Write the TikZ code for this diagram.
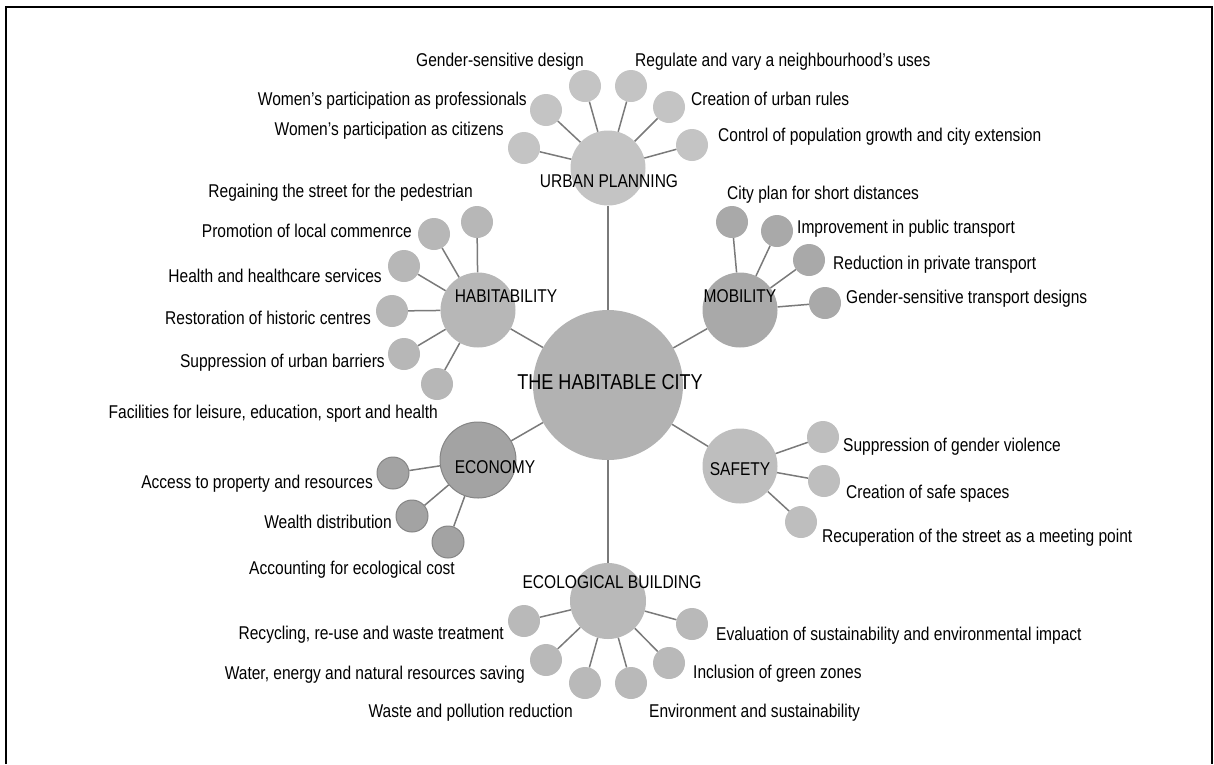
\documentclass[tikz,border=0pt]{standalone}
\usepackage{fontspec}
\setmainfont[FakeStretch=0.84]{Liberation Sans}
\begin{document}
\begin{tikzpicture}[x=1pt,y=-1pt,
  hubtext/.style={font=\fontsize{18.5}{20}\selectfont, inner sep=0pt},
  lbl/.style={font=\fontsize{18.5}{20}\selectfont, inner sep=0pt, yshift=-3.5pt},
  lleft/.style={lbl, anchor=mid east},
  lright/.style={lbl, anchor=mid west},
  bubble/.style={circle, inner sep=0pt, draw=none},
  leaf/.style={bubble, minimum size=32pt},
  hub/.style={bubble, minimum size=75pt},
  link/.style={draw=linkgray, line width=1.5pt},
  cUrban/.style={fill=urbangray},
  cHabit/.style={fill=habitgray},
  cMobil/.style={fill=mobilgray},
  cEcon/.style={fill=econgray, draw=econline, line width=1pt},
  cSafe/.style={fill=safegray},
  cEco/.style={fill=ecogray},
]
\definecolor{linkgray}{HTML}{7A7A7A}
\definecolor{citygray}{HTML}{B2B2B2}
\definecolor{urbangray}{HTML}{C4C4C4}
\definecolor{habitgray}{HTML}{B7B7B7}
\definecolor{mobilgray}{HTML}{A9A9A9}
\definecolor{econgray}{HTML}{A3A3A3}
\definecolor{econline}{HTML}{858585}
\definecolor{safegray}{HTML}{BEBEBE}
\definecolor{ecogray}{HTML}{B9B9B9}

\useasboundingbox (0,0) rectangle (1214,764);
% open frame: left, top and right sides
\draw[line width=2pt] (6.3,764) -- (6.3,7) -- (1212,7) -- (1212,764);

% central circle
\node[bubble, minimum size=150pt, fill=citygray] (city) at (608,385) {};

% hubs
\node[hub, cUrban] (urban) at (608,168) {};
\node[hub, cHabit] (habit) at (478,310) {};
\node[hub, cMobil] (mobil) at (740,310) {};
\node[hub, cEcon, minimum size=76pt] (econ) at (478,460) {};
\node[hub, cSafe] (safe) at (740,466) {};
\node[hub, cEco, minimum size=76pt] (eco) at (608,601) {};

% urban planning leaves
\node[leaf, cUrban] (u1) at (524,148) {};
\node[leaf, cUrban] (u2) at (546,110) {};
\node[leaf, cUrban] (u3) at (585,86) {};
\node[leaf, cUrban] (u4) at (631,86) {};
\node[leaf, cUrban] (u5) at (669,107) {};
\node[leaf, cUrban] (u6) at (692,145) {};

% habitability leaves
\node[leaf, cHabit] (h1) at (477,222) {};
\node[leaf, cHabit] (h2) at (434,234) {};
\node[leaf, cHabit] (h3) at (404,266) {};
\node[leaf, cHabit] (h4) at (392,311) {};
\node[leaf, cHabit] (h5) at (404,354) {};
\node[leaf, cHabit] (h6) at (437,384) {};

% mobility leaves
\node[leaf, cMobil] (m1) at (732,222) {};
\node[leaf, cMobil] (m2) at (777,231) {};
\node[leaf, cMobil] (m3) at (809,260) {};
\node[leaf, cMobil] (m4) at (825,303) {};

% safety leaves
\node[leaf, cSafe] (s1) at (823,437) {};
\node[leaf, cSafe] (s2) at (824,481) {};
\node[leaf, cSafe] (s3) at (801,522) {};

% economy leaves
\node[leaf, cEcon] (e1) at (393,473) {};
\node[leaf, cEcon] (e2) at (412,516) {};
\node[leaf, cEcon] (e3) at (448,542) {};

% ecological building leaves
\node[leaf, cEco] (b1) at (524,621) {};
\node[leaf, cEco] (b2) at (546,660) {};
\node[leaf, cEco] (b3) at (585,683) {};
\node[leaf, cEco] (b4) at (631,683) {};
\node[leaf, cEco] (b5) at (669,663) {};
\node[leaf, cEco] (b6) at (692,624) {};

% connectors
\foreach \h in {urban,habit,mobil,econ,safe,eco} \draw[link] (city) -- (\h);
\foreach \l in {u1,u2,u3,u4,u5,u6} \draw[link] (urban) -- (\l);
\foreach \l in {h1,h2,h3,h4,h5,h6} \draw[link] (habit) -- (\l);
\foreach \l in {m1,m2,m3,m4} \draw[link] (mobil) -- (\l);
\foreach \l in {s1,s2,s3} \draw[link] (safe) -- (\l);
\foreach \l in {e1,e2,e3} \draw[link] (econ) -- (\l);
\foreach \l in {b1,b2,b3,b4,b5,b6} \draw[link] (eco) -- (\l);

% circle titles
\node[inner sep=0pt, font=\fontsize{21.5}{24}\selectfont] (tcity) at (610,382) {THE HABITABLE CITY};
\node[hubtext] (turban) at (609,181) {URBAN PLANNING};
\node[hubtext] (thabit) at (506,296) {HABITABILITY};
\node[hubtext] (tmobil) at (740,296) {MOBILITY};
\node[hubtext] (tecon) at (495,467) {ECONOMY};
\node[hubtext] (tsafe) at (740,469) {SAFETY};
\node[hubtext] (teco) at (612,582) {ECOLOGICAL BUILDING};

% urban planning labels
\node[lleft] (lu3) at (584,60) {Gender-sensitive design};
\node[lright] (lu4) at (635,60) {Regulate and vary a neighbourhood’s uses};
\node[lleft] (lu2) at (527,99) {Women’s participation as professionals};
\node[lright] (lu5) at (691,99) {Creation of urban rules};
\node[lleft] (lu1) at (504,129) {Women’s participation as citizens};
\node[lright] (lu6) at (718,135) {Control of population growth and city extension};

% habitability labels
\node[lleft] (lh1) at (473,191) {Regaining the street for the pedestrian};
\node[lleft] (lh2) at (412,231) {Promotion of local commenrce};
\node[lleft] (lh3) at (382,276) {Health and healthcare services};
\node[lleft] (lh4) at (371,318) {Restoration of historic centres};
\node[lleft] (lh5) at (385,361) {Suppression of urban barriers};
\node[lleft] (lh6) at (438,412) {Facilities for leisure, education, sport and health};

% mobility labels
\node[lright] (lm1) at (727,193) {City plan for short distances};
\node[lright] (lm2) at (797,227) {Improvement in public transport};
\node[lright] (lm3) at (833,263) {Reduction in private transport};
\node[lright] (lm4) at (846,297) {Gender-sensitive transport designs};

% safety labels
\node[lright] (ls1) at (843,445) {Suppression of gender violence};
\node[lright] (ls2) at (846,492) {Creation of safe spaces};
\node[lright] (ls3) at (822,536) {Recuperation of the street as a meeting point};

% economy labels
\node[lleft] (le1) at (373,482) {Access to property and resources};
\node[lleft] (le2) at (392,522) {Wealth distribution};
\node[lleft] (le3) at (455,568) {Accounting for ecological cost};

% ecological building labels
\node[lleft] (lb1) at (504,633) {Recycling, re-use and waste treatment};
\node[lleft] (lb2) at (525,673) {Water, energy and natural resources saving};
\node[lleft] (lb3) at (573,711) {Waste and pollution reduction};
\node[lright] (lb4) at (649,711) {Environment and sustainability};
\node[lright] (lb5) at (693,672) {Inclusion of green zones};
\node[lright] (lb6) at (716,634) {Evaluation of sustainability and environmental impact};
\end{tikzpicture}
\end{document}
